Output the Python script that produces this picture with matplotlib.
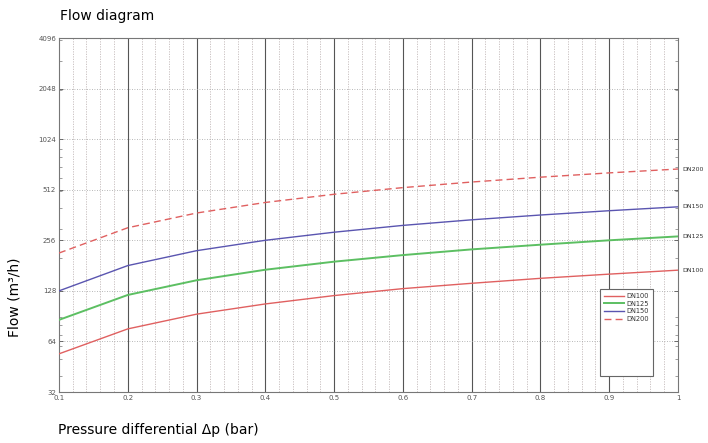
import matplotlib
matplotlib.use('Agg')
import matplotlib.pyplot as plt
from matplotlib.patches import Rectangle
from matplotlib.ticker import FixedLocator, NullFormatter, LogLocator
import numpy as np

# data
dp = [0.1, 0.2, 0.3, 0.4, 0.5, 0.6, 0.7, 0.8, 0.9, 1.0]
dn100 = [54, 76, 93, 107, 120, 132, 142, 152, 161, 170]
dn125 = [86, 121, 148, 171, 191, 209, 226, 241, 256, 270]
dn150 = [128, 181, 222, 256, 286, 314, 339, 362, 384, 405]
dn200 = [215, 304, 372, 430, 481, 527, 569, 608, 645, 680]
yticks = [32, 64, 128, 256, 512, 1024, 2048, 4096]
xticks = [0.1, 0.2, 0.3, 0.4, 0.5, 0.6, 0.7, 0.8, 0.9, 1]
xlabels = ['0.1', '0.2', '0.3', '0.4', '0.5', '0.6', '0.7', '0.8', '0.9', '1']

red = '#e06060'
green = '#5cbf62'
blue = '#5a55b0'

fig = plt.figure(figsize=(7.08, 4.43), dpi=100)
ax = fig.add_axes([0.0833, 0.1151, 0.8743, 0.7991])

# grid
for xv in np.arange(0.12, 1.0, 0.02):
    if abs(round(xv * 10) - xv * 10) > 1e-6:
        ax.axvline(xv, color='#c4baba', lw=0.6, ls=(0, (1.5, 1.5)), zorder=1)
for xv in xticks[1:-1]:
    ax.axvline(xv, color='#555555', lw=0.8, zorder=1)
for yv in yticks[1:-1]:
    ax.axhline(yv, color='#a0a0a0', lw=0.6, ls=(0, (1, 2)), zorder=1)

ax.plot(dp, dn100, color=red, lw=1.0, label='DN100', zorder=3)
ax.plot(dp, dn125, color=green, lw=1.4, label='DN125', zorder=3)
ax.plot(dp, dn150, color=blue, lw=1.0, label='DN150', zorder=3)
ax.plot(dp, dn200, color=red, lw=1.0, ls=(0, (5, 3)), label='DN200', zorder=3)

ax.set_yscale('log', base=2)
ax.set_xlim(0.1, 1)
ax.set_ylim(32, 4096)
ax.yaxis.set_major_locator(FixedLocator(yticks))
ax.set_yticklabels([str(v) for v in yticks])
ax.yaxis.set_minor_locator(LogLocator(base=10, subs=np.arange(2, 10)))
ax.yaxis.set_minor_formatter(NullFormatter())
ax.set_xticks(xticks)
ax.set_xticklabels(xlabels)
ax.tick_params(which='major', labelsize=5, colors='#555555', length=3, width=0.6,
               direction='in', right=True, pad=2)
ax.tick_params(which='minor', length=2, width=0.5, colors='#777777',
               direction='in', right=True)
for s in ax.spines.values():
    s.set_color('#777777')
    s.set_linewidth(0.8)

# end labels
for name, vals in [('DN200', dn200), ('DN150', dn150), ('DN125', dn125), ('DN100', dn100)]:
    ax.annotate(name, (1, vals[-1]), xytext=(3, 0), textcoords='offset points',
                fontsize=4.5, color='#333333', va='center', ha='left',
                annotation_clip=False)

# legend box (MATLAB style, tall frame)
box = Rectangle((0.8736, 0.0452), 0.0855, 0.2458, transform=ax.transAxes,
                facecolor='white', edgecolor='#666666', lw=0.8, zorder=4)
ax.add_patch(box)
leg = ax.legend(loc='upper left', bbox_to_anchor=(0.872, 0.295), frameon=False,
                fontsize=4.8, handlelength=3.0, handletextpad=0.3,
                labelspacing=0.25, borderpad=0.3)
leg.set_zorder(5)
for t in leg.get_texts():
    t.set_color('#333333')

fig.text(0.085, 0.965, 'Flow diagram', fontsize=10, ha='left', va='center')
fig.text(0.082, 0.03, 'Pressure differential \u0394p (bar)', fontsize=10,
         ha='left', va='center')
fig.text(0.02, 0.33, 'Flow (m\u00b3/h)', fontsize=10, rotation=90,
         ha='center', va='center')

fig.savefig('out.png', dpi=100)
